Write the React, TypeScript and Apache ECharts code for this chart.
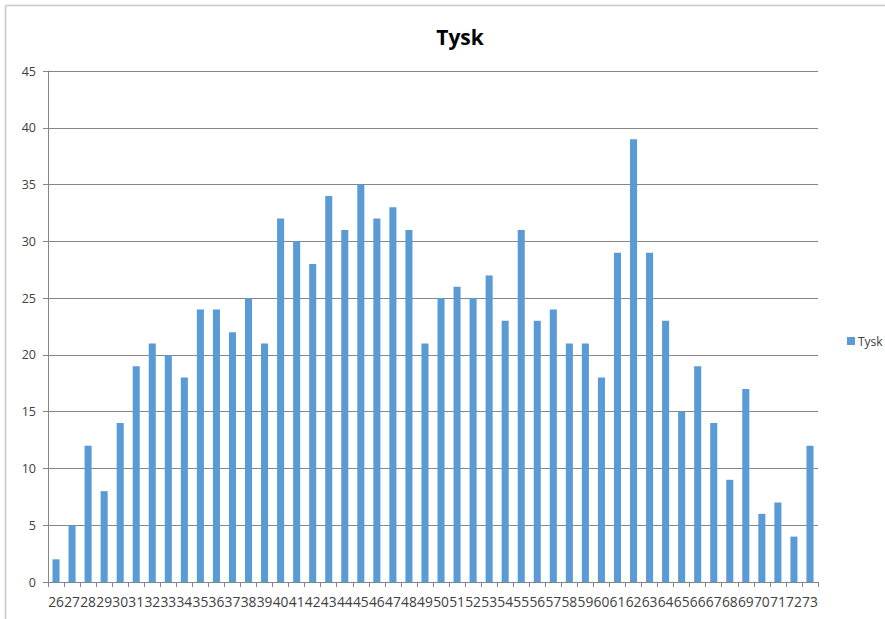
import React, { useEffect, useRef } from "react";
import * as echarts from "echarts";

const categories: string[] = [
  "26","27","28","29","30","31","32","33","34","35","36","37","38","39","40","41",
  "42","43","44","45","46","47","48","49","50","51","52","53","54","55","56","57",
  "58","59","60","61","62","63","64","65","66","67","68","69","70","71","72","73",
];
const tyskValues: number[] = [
  2, 5, 12, 8, 14, 19, 21, 20, 18, 24, 24, 22, 25, 21, 32, 30,
  28, 34, 31, 35, 32, 33, 31, 21, 25, 26, 25, 27, 23, 31, 23, 24,
  21, 21, 18, 29, 39, 29, 23, 15, 19, 14, 9, 17, 6, 7, 4, 12,
];
const seriesName = "Tysk";
const chartTitle = "Tysk";

export default function App() {
  const ref = useRef<HTMLDivElement>(null);
  useEffect(() => {
    if (!ref.current) return;
    const chart = echarts.init(ref.current, null, { renderer: "svg" });
    const font = "'Open Sans', 'Noto Sans', sans-serif";
    chart.setOption({
      animation: false,
      backgroundColor: "#ffffff",
      title: {
        text: chartTitle,
        left: 455,
        top: 21,
        textAlign: "center",
        textStyle: { fontFamily: font, fontSize: 21, fontWeight: "bold", color: "#000" },
      },
      legend: {
        data: [seriesName],
        orient: "vertical",
        left: 842,
        top: 330,
        itemWidth: 8,
        itemHeight: 8,
        itemGap: 4,
        textStyle: { fontFamily: font, fontSize: 12, color: "#404040", padding: [0, 0, 0, -2] },
        icon: "rect",
      },
      graphic: [
        { type: "line", shape: { x1: 5.5, y1: 5.5, x2: 885, y2: 5.5 }, style: { stroke: "#c8c8c8", lineWidth: 1.5 } },
        { type: "line", shape: { x1: 5.5, y1: 5.5, x2: 5.5, y2: 619 }, style: { stroke: "#c8c8c8", lineWidth: 1.5 } },
      ],
      grid: { left: 48, right: 67, top: 71, bottom: 37, containLabel: false },
      xAxis: {
        type: "category",
        data: categories,
        axisLine: { show: true, lineStyle: { color: "#868686" } },
        axisTick: { show: true, alignWithLabel: false, length: 5, lineStyle: { color: "#868686" } },
        axisLabel: { interval: 0, fontFamily: font, fontSize: 13.8, color: "#404040", margin: 12 },
      },
      yAxis: {
        type: "value",
        min: 0,
        max: 45,
        interval: 5,
        axisLine: { show: true, lineStyle: { color: "#868686" } },
        axisTick: { show: true, length: 5, lineStyle: { color: "#868686" } },
        splitLine: { show: true, lineStyle: { color: "#868686" } },
        axisLabel: { fontFamily: font, fontSize: 12.5, color: "#404040", margin: 12 },
      },
      series: [
        {
          name: seriesName,
          type: "bar",
          data: tyskValues,
          barCategoryGap: "56%",
          itemStyle: { color: "#5b9bd5" },
        },
      ],
    });
    return () => chart.dispose();
  }, []);
  return (
    <div
      ref={ref}
      style={{ position: "fixed", left: 0, top: 0, width: 885, height: 619 }}
    />
  );
}
